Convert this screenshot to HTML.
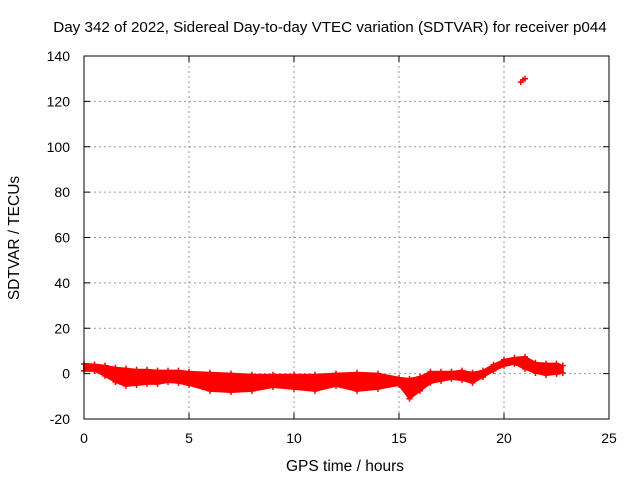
<!DOCTYPE html>
<html><head><meta charset="utf-8"><style>
body{margin:0;background:#fff}
svg{display:block;font-family:"Liberation Sans",sans-serif}
</style></head><body>
<svg id="chart" width="640" height="480" viewBox="0 0 640 480">
<text x="330" y="32" font-size="15.2" text-anchor="middle">Day 342 of 2022, Sidereal Day-to-day VTEC variation (SDTVAR) for receiver p044</text>
<text transform="translate(19,238) rotate(-90)" font-size="15.5" text-anchor="middle">SDTVAR / TECUs</text>
<text x="345" y="471" font-size="15.5" text-anchor="middle">GPS time / hours</text>
<g id="grid"></g>
<g id="ticks"></g>
<g id="band"></g>
<rect x="84" y="56" width="525" height="363" fill="none" stroke="#000" stroke-width="1"/>
</svg>
<script>
const xTicks=[0,5,10,15,20,25];
const yTicks=[-20,0,20,40,60,80,100,120,140];
const times=[0,0.5,1,1.5,2,2.5,3,3.5,4,4.5,5,6,7,8,9,10,11,12,13,14,15,15.5,16,16.5,17,17.5,18,18.5,19,19.5,20,20.5,21,21.5,22,22.5,22.8];
const upper=[4.3,4.0,3.5,2.6,2.2,1.7,1.7,1.3,1.3,1.3,0.8,0.4,0.0,-0.5,-0.5,-0.5,-0.5,0.0,0.4,0.0,-1.8,-2.3,-1.4,0.8,0.8,0.8,1.3,0.4,1.3,3.9,6.1,7.0,7.4,4.8,4.4,4.4,3.5];
const lower=[1.2,1.2,-1.0,-3.7,-5.4,-5.0,-4.5,-4.5,-3.7,-4.1,-5.0,-7.6,-8.1,-7.6,-5.9,-6.7,-7.6,-5.4,-7.6,-6.7,-5.0,-11.1,-7.6,-4.1,-3.2,-2.3,-2.8,-4.1,-1.5,1.2,3.4,4.3,2.1,0.3,-0.6,-0.1,0.3];
const outlierT=[20.8,20.9,21.0];
const outlierV=[128.5,129.5,130];
const X=t=>84+t*525/25, Y=v=>419-(v+20)*363/160;
const NS="http://www.w3.org/2000/svg";
function mk(tag,attrs,parent){const e=document.createElementNS(NS,tag);for(const k in attrs)e.setAttribute(k,attrs[k]);parent.appendChild(e);return e;}
const grid=document.getElementById('grid'),ticks=document.getElementById('ticks'),band=document.getElementById('band');
xTicks.forEach(t=>{
 if(t>0&&t<25){const l=mk('line',{x1:X(t),x2:X(t),y1:56,y2:419,stroke:'#999','stroke-dasharray':'2,3'},grid);
 
 }
 mk('line',{x1:X(t),x2:X(t),y1:419,y2:413,stroke:'#000'},ticks);
 mk('line',{x1:X(t),x2:X(t),y1:56,y2:62,stroke:'#000'},ticks);
 const tx=mk('text',{x:X(t),y:443,'font-size':14,'text-anchor':'middle'},ticks);tx.textContent=t;
 
 
});
yTicks.forEach(v=>{
 if(v>-20&&v<140){const l=mk('line',{x1:84,x2:609,y1:Y(v),y2:Y(v),stroke:'#999','stroke-dasharray':'2,3'},grid);
 
 }
 mk('line',{x1:84,x2:90,y1:Y(v),y2:Y(v),stroke:'#000'},ticks);
 mk('line',{x1:609,x2:603,y1:Y(v),y2:Y(v),stroke:'#000'},ticks);
 const tx=mk('text',{x:70,y:Y(v)+5,'font-size':14,'text-anchor':'end'},ticks);tx.textContent=v;
 
 
});
let pts=times.map((t,i)=>X(t)+','+Y(upper[i])).concat(times.map((t,i)=>X(t)+','+Y(lower[i])).reverse());
const poly=mk('polygon',{points:pts.join(' '),fill:'#f00',stroke:'#f00','stroke-width':2,'stroke-linejoin':'round'},band);


function plus(x,y){const p=mk('path',{d:`M${x-3},${y}h6M${x},${y-3}v6`,stroke:'#f00','stroke-width':1.5},band);
 
 }
times.forEach((t,i)=>{plus(X(t),Y(upper[i]));plus(X(t),Y(lower[i]));});
outlierT.forEach((t,i)=>plus(X(t),Y(outlierV[i])));
</script>
</body></html>
